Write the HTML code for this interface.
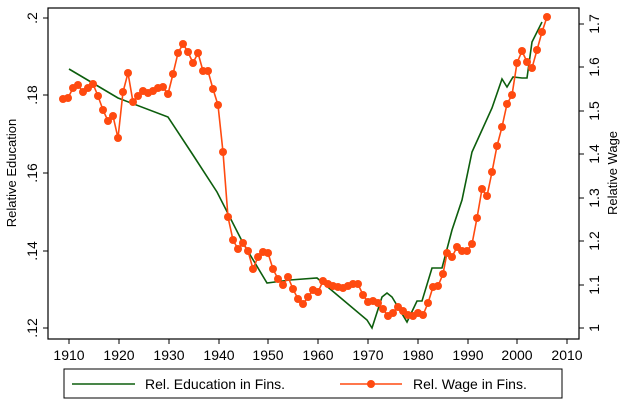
<!DOCTYPE html>
<html><head><meta charset="utf-8"><style>
body{margin:0;background:#fff;}
svg{display:block;font-family:"Liberation Sans",Arial,sans-serif;}
</style></head><body>
<svg width="626" height="405" viewBox="0 0 626 405" xmlns="http://www.w3.org/2000/svg">
<rect width="626" height="405" fill="#fff"/>
<rect x="48" y="8" width="531" height="331" fill="none" stroke="#000" stroke-width="1.2"/>
<g stroke="#000" stroke-width="1">
<line x1="43" y1="18" x2="48" y2="18"/><line x1="43" y1="95" x2="48" y2="95"/><line x1="43" y1="173" x2="48" y2="173"/><line x1="43" y1="251" x2="48" y2="251"/><line x1="43" y1="328" x2="48" y2="328"/>
<line x1="579" y1="24" x2="584" y2="24"/><line x1="579" y1="67" x2="584" y2="67"/><line x1="579" y1="111" x2="584" y2="111"/><line x1="579" y1="154" x2="584" y2="154"/><line x1="579" y1="198" x2="584" y2="198"/><line x1="579" y1="241" x2="584" y2="241"/><line x1="579" y1="285" x2="584" y2="285"/><line x1="579" y1="328" x2="584" y2="328"/>
<line x1="69" y1="339" x2="69" y2="344"/><line x1="119" y1="339" x2="119" y2="344"/><line x1="169" y1="339" x2="169" y2="344"/><line x1="219" y1="339" x2="219" y2="344"/><line x1="268" y1="339" x2="268" y2="344"/><line x1="318" y1="339" x2="318" y2="344"/><line x1="368" y1="339" x2="368" y2="344"/><line x1="418" y1="339" x2="418" y2="344"/><line x1="468" y1="339" x2="468" y2="344"/><line x1="517" y1="339" x2="517" y2="344"/><line x1="567" y1="339" x2="567" y2="344"/>
</g>
<g font-size="14" fill="#000" text-anchor="middle">
<text x="69" y="360">1910</text><text x="119" y="360">1920</text><text x="169" y="360">1930</text><text x="219" y="360">1940</text><text x="268" y="360">1950</text><text x="318" y="360">1960</text><text x="368" y="360">1970</text><text x="418" y="360">1980</text><text x="468" y="360">1990</text><text x="517" y="360">2000</text><text x="567" y="360">2010</text>
<text transform="translate(37,18) rotate(-90)">.2</text>
<text transform="translate(37,95) rotate(-90)">.18</text>
<text transform="translate(37,173) rotate(-90)">.16</text>
<text transform="translate(37,251) rotate(-90)">.14</text>
<text transform="translate(37,328) rotate(-90)">.12</text>
<text transform="translate(599,24) rotate(-90)">1.7</text>
<text transform="translate(599,67) rotate(-90)">1.6</text>
<text transform="translate(599,111) rotate(-90)">1.5</text>
<text transform="translate(599,154) rotate(-90)">1.4</text>
<text transform="translate(599,198) rotate(-90)">1.3</text>
<text transform="translate(599,241) rotate(-90)">1.2</text>
<text transform="translate(599,285) rotate(-90)">1.1</text>
<text transform="translate(599,328) rotate(-90)">1</text>
<text transform="translate(16,173) rotate(-90)" font-size="13">Relative Education</text>
<text transform="translate(617,173) rotate(-90)" font-size="13">Relative Wage</text>
</g>
<polyline fill="none" stroke="#0d5e0d" stroke-width="1.6" points="69,69 118,98 168,117 193,155 217,192 243,243 267,283 290,280 317,278 367,320 372,328 382,297 387,293 392,297 407,322 417,301 422,301 432,268 442,268 452,230 462,200 472,152 482,130 492,108 502,79 507,87 513,77 522,78 527,78 532,42 542,22"/>
<g fill="#ff4a10" stroke="#ff4a10">
<polyline fill="none" stroke-width="1.6" points="63,99 68,98 73,88 78,85 83,92 88,88 93,84 98,96 103,110 108,121 113,116 118,138 123,92 128,73 133,102 138,96 143,91 148,93 153,91 158,88 163,87 168,94 173,74 178,53 183,44 188,52 193,63 198,53 203,71 208,71 213,89 218,105 223,152 228,217 233,240 238,249 243,243 248,251 253,269 258,257 263,252 268,253 273,269 278,279 283,285 288,277 293,289 298,299 303,304 308,297 313,290 318,292 323,281 328,284 333,286 338,287 343,288 348,286 353,284 358,284 363,295 368,302 373,301 378,303 383,309 388,316 393,313 398,307 403,311 408,315 413,316 418,313 423,315 428,303 433,287 438,286 443,274 447,253 452,257 457,247 462,251 467,251 472,244 477,218 482,189 487,196 492,172 497,146 502,127 507,104 512,95 517,63 522,51 527,62 532,68 537,50 542,32 547,17"/>
<g stroke="none">
<circle cx="63" cy="99" r="4"/><circle cx="68" cy="98" r="4"/><circle cx="73" cy="88" r="4"/><circle cx="78" cy="85" r="4"/><circle cx="83" cy="92" r="4"/><circle cx="88" cy="88" r="4"/><circle cx="93" cy="84" r="4"/><circle cx="98" cy="96" r="4"/><circle cx="103" cy="110" r="4"/><circle cx="108" cy="121" r="4"/><circle cx="113" cy="116" r="4"/><circle cx="118" cy="138" r="4"/><circle cx="123" cy="92" r="4"/><circle cx="128" cy="73" r="4"/><circle cx="133" cy="102" r="4"/><circle cx="138" cy="96" r="4"/><circle cx="143" cy="91" r="4"/><circle cx="148" cy="93" r="4"/><circle cx="153" cy="91" r="4"/><circle cx="158" cy="88" r="4"/><circle cx="163" cy="87" r="4"/><circle cx="168" cy="94" r="4"/><circle cx="173" cy="74" r="4"/><circle cx="178" cy="53" r="4"/><circle cx="183" cy="44" r="4"/><circle cx="188" cy="52" r="4"/><circle cx="193" cy="63" r="4"/><circle cx="198" cy="53" r="4"/><circle cx="203" cy="71" r="4"/><circle cx="208" cy="71" r="4"/><circle cx="213" cy="89" r="4"/><circle cx="218" cy="105" r="4"/><circle cx="223" cy="152" r="4"/><circle cx="228" cy="217" r="4"/><circle cx="233" cy="240" r="4"/><circle cx="238" cy="249" r="4"/><circle cx="243" cy="243" r="4"/><circle cx="248" cy="251" r="4"/><circle cx="253" cy="269" r="4"/><circle cx="258" cy="257" r="4"/><circle cx="263" cy="252" r="4"/><circle cx="268" cy="253" r="4"/><circle cx="273" cy="269" r="4"/><circle cx="278" cy="279" r="4"/><circle cx="283" cy="285" r="4"/><circle cx="288" cy="277" r="4"/><circle cx="293" cy="289" r="4"/><circle cx="298" cy="299" r="4"/><circle cx="303" cy="304" r="4"/><circle cx="308" cy="297" r="4"/><circle cx="313" cy="290" r="4"/><circle cx="318" cy="292" r="4"/><circle cx="323" cy="281" r="4"/><circle cx="328" cy="284" r="4"/><circle cx="333" cy="286" r="4"/><circle cx="338" cy="287" r="4"/><circle cx="343" cy="288" r="4"/><circle cx="348" cy="286" r="4"/><circle cx="353" cy="284" r="4"/><circle cx="358" cy="284" r="4"/><circle cx="363" cy="295" r="4"/><circle cx="368" cy="302" r="4"/><circle cx="373" cy="301" r="4"/><circle cx="378" cy="303" r="4"/><circle cx="383" cy="309" r="4"/><circle cx="388" cy="316" r="4"/><circle cx="393" cy="313" r="4"/><circle cx="398" cy="307" r="4"/><circle cx="403" cy="311" r="4"/><circle cx="408" cy="315" r="4"/><circle cx="413" cy="316" r="4"/><circle cx="418" cy="313" r="4"/><circle cx="423" cy="315" r="4"/><circle cx="428" cy="303" r="4"/><circle cx="433" cy="287" r="4"/><circle cx="438" cy="286" r="4"/><circle cx="443" cy="274" r="4"/><circle cx="447" cy="253" r="4"/><circle cx="452" cy="257" r="4"/><circle cx="457" cy="247" r="4"/><circle cx="462" cy="251" r="4"/><circle cx="467" cy="251" r="4"/><circle cx="472" cy="244" r="4"/><circle cx="477" cy="218" r="4"/><circle cx="482" cy="189" r="4"/><circle cx="487" cy="196" r="4"/><circle cx="492" cy="172" r="4"/><circle cx="497" cy="146" r="4"/><circle cx="502" cy="127" r="4"/><circle cx="507" cy="104" r="4"/><circle cx="512" cy="95" r="4"/><circle cx="517" cy="63" r="4"/><circle cx="522" cy="51" r="4"/><circle cx="527" cy="62" r="4"/><circle cx="532" cy="68" r="4"/><circle cx="537" cy="50" r="4"/><circle cx="542" cy="32" r="4"/><circle cx="547" cy="17" r="4"/>
</g>
</g>
<rect x="64" y="369" width="498" height="29" fill="none" stroke="#000" stroke-width="1"/>
<line x1="72" y1="384" x2="135" y2="384" stroke="#0d5e0d" stroke-width="1.6"/>
<text x="145" y="389" font-size="14">Rel. Education in Fins.</text>
<line x1="340" y1="384" x2="402" y2="384" stroke="#ff4a10" stroke-width="1.6"/>
<circle cx="371" cy="384" r="4" fill="#ff4a10"/>
<text x="413" y="389" font-size="14">Rel. Wage in Fins.</text>
</svg>
</body></html>
